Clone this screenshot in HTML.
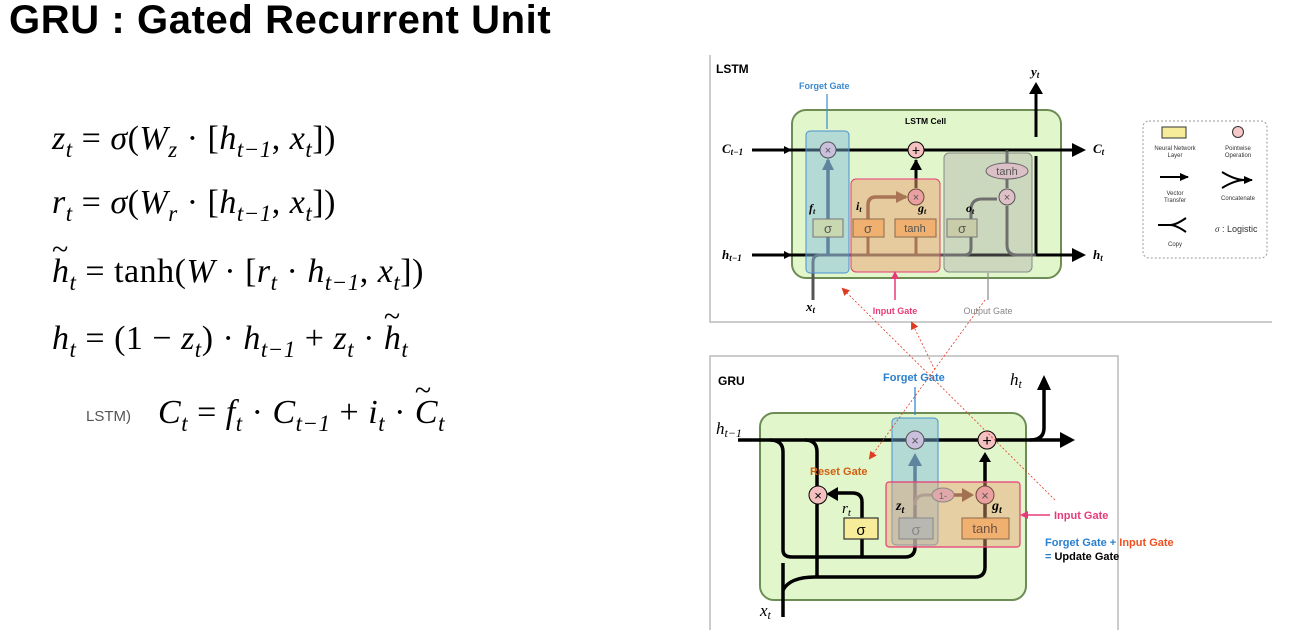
<!DOCTYPE html>
<html><head><meta charset="utf-8"><style>
body{margin:0;width:1311px;height:635px;background:#fff;overflow:hidden;position:relative;font-family:"Liberation Sans",sans-serif}
.t{position:absolute;left:9px;top:-2px;font-size:40px;font-weight:bold;letter-spacing:0.6px}
.eq{position:absolute;left:52px;font-family:"Liberation Serif",serif;font-size:34px;white-space:nowrap;line-height:1;letter-spacing:0.5px}
.eq i{font-style:italic}
.eq sub{font-size:23px;font-style:italic;vertical-align:-8px;line-height:0}
.til{position:relative;display:inline-block}
.til:before{content:"~";position:absolute;left:0;top:-20px;font-size:30px;font-style:normal}
</style></head><body>
<div class="t">GRU : Gated Recurrent Unit</div>
<div class="eq" style="top:122px"><i>z</i><sub>t</sub> = <i>σ</i>(<i>W</i><sub>z</sub> · [<i>h</i><sub>t−1</sub>, <i>x</i><sub>t</sub>])</div>
<div class="eq" style="top:186px"><i>r</i><sub>t</sub> = <i>σ</i>(<i>W</i><sub>r</sub> · [<i>h</i><sub>t−1</sub>, <i>x</i><sub>t</sub>])</div>
<div class="eq" style="top:255px"><i class="til">h</i><sub>t</sub> = tanh(<i>W</i> · [<i>r</i><sub>t</sub> · <i>h</i><sub>t−1</sub>, <i>x</i><sub>t</sub>])</div>
<div class="eq" style="top:322px"><i>h</i><sub>t</sub> = (1 − <i>z</i><sub>t</sub>) · <i>h</i><sub>t−1</sub> + <i>z</i><sub>t</sub> · <i class="til">h</i><sub>t</sub></div>
<div style="position:absolute;left:86px;top:408px;font-size:15px;color:#555">LSTM)</div>
<div class="eq" style="top:396px;left:158px"><i>C</i><sub>t</sub> = <i>f</i><sub>t</sub> · <i>C</i><sub>t−1</sub> + <i>i</i><sub>t</sub> · <i class="til">C</i><sub>t</sub></div>

<svg width="1311" height="635" style="position:absolute;left:0;top:0" font-family="Liberation Sans, sans-serif">
<defs>
<marker id="a" markerWidth="9" markerHeight="8" refX="8" refY="4" orient="auto" markerUnits="userSpaceOnUse"><path d="M0,0L9,4L0,8z" fill="#000"/></marker>
<marker id="ag" markerWidth="12" markerHeight="12" refX="10" refY="6" orient="auto" markerUnits="userSpaceOnUse"><path d="M0,0L12,6L0,12z" fill="#4a5a68"/></marker>
<marker id="ab" markerWidth="12" markerHeight="12" refX="10" refY="6" orient="auto" markerUnits="userSpaceOnUse"><path d="M0,0L12,6L0,12z" fill="#6a4a3a"/></marker>
<marker id="ar" markerWidth="8" markerHeight="8" refX="6" refY="4" orient="auto" markerUnits="userSpaceOnUse"><path d="M0,0L8,4L0,8z" fill="#e03a20"/></marker>
</defs>
<path d="M710,55V322H1272" fill="none" stroke="#bbb" stroke-width="1.5"/>
<text x="716" y="73" font-size="12" font-weight="bold">LSTM</text>
<rect x="792" y="110" width="269" height="168" rx="14" fill="#e2f6cc" stroke="#6e8d55" stroke-width="2"/>
<text x="905" y="124" font-size="8.5" font-weight="bold">LSTM Cell</text>
<text x="799" y="89" font-size="9" font-weight="bold" fill="#3a8ad0">Forget Gate</text>
<line x1="827" y1="94" x2="827" y2="129" stroke="#3a8ad0" stroke-width="1.2"/>
<line x1="752" y1="150" x2="1075" y2="150" stroke="#000" stroke-width="3"/>
<path d="M1072,143L1086,150L1072,157z"/>
<line x1="752" y1="255" x2="1075" y2="255" stroke="#000" stroke-width="3"/>
<path d="M1072,248L1086,255L1072,262z"/>
<line x1="1036" y1="137" x2="1036" y2="92" stroke="#000" stroke-width="3"/>
<path d="M1029,94L1036,82L1043,94z"/>
<line x1="1036" y1="156" x2="1036" y2="256" stroke="#000" stroke-width="3"/>
<path d="M813,300V262Q813,255 820,255H965Q971,255 971,248V210Q971,199 982,199H997" fill="none" stroke="#555" stroke-width="3"/>
<line x1="828" y1="255" x2="828" y2="160" stroke="#4a5a68" stroke-width="3.5" marker-end="url(#ag)"/>
<line x1="868" y1="255" x2="868" y2="237" stroke="#6a4a3a" stroke-width="3"/>
<line x1="916" y1="255" x2="916" y2="237" stroke="#6a4a3a" stroke-width="3"/>
<path d="M868,219V205Q868,197 876,197H906" fill="none" stroke="#6a4a3a" stroke-width="3.5" marker-end="url(#ab)"/>
<line x1="916" y1="188" x2="916" y2="160" stroke="#000" stroke-width="3"/>
<path d="M910,170L916,159L922,170z"/>
<path d="M1007,150V188M1007,206V245Q1007,255 1017,255H1036" fill="none" stroke="#555" stroke-width="3"/>
<rect x="806" y="131" width="43" height="142" rx="4" fill="#7ab8e0" fill-opacity="0.45" stroke="#4a90d0" stroke-width="1"/>
<rect x="851" y="179" width="89" height="93" rx="5" fill="#e8a070" fill-opacity="0.5" stroke="#e83a78" stroke-width="1"/>
<rect x="944" y="153" width="88" height="119" rx="5" fill="#a0a0a0" fill-opacity="0.35" stroke="#888" stroke-width="1"/>
<circle cx="828" cy="150" r="8" fill="#c8c0dc" stroke="#555"/><text x="828" y="154" font-size="11" text-anchor="middle" fill="#555">×</text>
<circle cx="916" cy="150" r="8" fill="#f4c0c0" stroke="#000"/><text x="916" y="155" font-size="14" text-anchor="middle">+</text>
<circle cx="916" cy="197" r="8" fill="#eaa0a0" stroke="#6a4a3a"/><text x="916" y="201" font-size="11" text-anchor="middle" fill="#555">×</text>
<circle cx="1007" cy="197" r="8" fill="#e0c0c8" stroke="#555"/><text x="1007" y="201" font-size="11" text-anchor="middle" fill="#555">×</text>
<ellipse cx="1007" cy="171" rx="21" ry="8" fill="#dcc0c8" stroke="#666"/><text x="1007" y="175" font-size="11" text-anchor="middle" fill="#555">tanh</text>
<rect x="813" y="219" width="30" height="18" fill="#c8d8b0" stroke="#777"/><text x="828" y="233" font-size="13" text-anchor="middle" fill="#555">σ</text>
<rect x="853" y="219" width="31" height="18" fill="#f0b070" stroke="#8a6a4a"/><text x="868" y="233" font-size="13" text-anchor="middle" fill="#555">σ</text>
<rect x="895" y="219" width="41" height="18" fill="#f0b070" stroke="#8a6a4a"/><text x="915" y="232" font-size="11" text-anchor="middle" fill="#555">tanh</text>
<rect x="947" y="219" width="30" height="18" fill="#c8cca8" stroke="#777"/><text x="962" y="233" font-size="13" text-anchor="middle" fill="#555">σ</text>
<g font-family="Liberation Serif, serif" font-style="italic" font-weight="bold">
<text x="809" y="212" font-size="12">f<tspan font-size="8" dy="2">t</tspan></text>
<text x="856" y="210" font-size="12">i<tspan font-size="8" dy="2">t</tspan></text>
<text x="918" y="212" font-size="12">g<tspan font-size="8" dy="2">t</tspan></text>
<text x="966" y="212" font-size="12">o<tspan font-size="8" dy="2">t</tspan></text>
<text x="722" y="153" font-size="13">C<tspan font-size="9" dy="2">t−1</tspan></text>
<text x="1093" y="153" font-size="13">C<tspan font-size="9" dy="2">t</tspan></text>
<text x="722" y="259" font-size="13">h<tspan font-size="9" dy="2">t−1</tspan></text>
<text x="1093" y="259" font-size="13">h<tspan font-size="9" dy="2">t</tspan></text>
<text x="1031" y="76" font-size="13">y<tspan font-size="9" dy="2">t</tspan></text>
<text x="806" y="311" font-size="13">x<tspan font-size="9" dy="2">t</tspan></text>
</g>
<path d="M784,146L792,150L784,154z"/>
<path d="M784,251L792,255L784,259z"/>
<line x1="895" y1="300" x2="895" y2="273" stroke="#e83a78" stroke-width="1.5"/>
<path d="M891,279L895,271L899,279z" fill="#e83a78"/>
<text x="895" y="314" font-size="9" font-weight="bold" fill="#e83a78" text-anchor="middle">Input Gate</text>
<line x1="988" y1="300" x2="988" y2="273" stroke="#888" stroke-width="1.2"/>
<text x="988" y="314" font-size="9" fill="#888" text-anchor="middle">Output Gate</text>
<rect x="1143" y="121" width="124" height="137" rx="6" fill="#fff" stroke="#999" stroke-dasharray="2,2"/>
<rect x="1162" y="127" width="24" height="11" fill="#f6ec9a" stroke="#333"/>
<circle cx="1238" cy="132" r="5.5" fill="#f6c8c8" stroke="#333"/>
<g font-size="6" fill="#333" text-anchor="middle">
<text x="1175" y="150">Neural Network</text><text x="1175" y="157">Layer</text>
<text x="1238" y="150">Pointwise</text><text x="1238" y="157">Operation</text>
<text x="1175" y="195">Vector</text><text x="1175" y="202">Transfer</text>
<text x="1238" y="200">Concatenate</text>
<text x="1175" y="246">Copy</text>
</g>
<line x1="1160" y1="177" x2="1188" y2="177" stroke="#000" stroke-width="2" marker-end="url(#a)"/>
<path d="M1222,172Q1235,180 1245,180M1222,188Q1235,180 1245,180" fill="none" stroke="#000" stroke-width="2"/><line x1="1240" y1="180" x2="1252" y2="180" stroke="#000" stroke-width="2" marker-end="url(#a)"/>
<path d="M1158,225H1170Q1176,225 1186,218M1170,225Q1176,225 1186,232" fill="none" stroke="#000" stroke-width="2"/>
<text x="1215" y="232" font-size="9" fill="#333"><tspan font-style="italic" font-family="Liberation Serif,serif">σ</tspan> : Logistic</text>

<path d="M710,630V356H1118V630" fill="none" stroke="#bbb" stroke-width="1.5"/>
<text x="718" y="385" font-size="12" font-weight="bold">GRU</text>
<rect x="760" y="413" width="266" height="187" rx="14" fill="#e2f6cc" stroke="#6e8d55" stroke-width="2"/>
<text x="883" y="381" font-size="11" font-weight="bold" fill="#2a80d0">Forget Gate</text>
<line x1="915" y1="387" x2="915" y2="415" stroke="#2a80d0" stroke-width="1.2"/>
<g fill="none" stroke="#000" stroke-width="3.5">
<line x1="738" y1="440" x2="1062" y2="440"/>
<path d="M1030,440Q1044,440 1044,428V388"/>
<path d="M770,440Q783,440 783,452V550Q783,557 792,557H905Q915,557 915,547V539"/>
<path d="M805,440Q817,440 817,452V486M817,504V577"/>
<path d="M862,557V539M862,518V502Q862,493 852,493H832"/>
<path d="M783,617V563"/>
<path d="M783,590Q790,577 815,577H975Q985,577 985,567V539"/>
<line x1="985" y1="518" x2="985" y2="504"/>
<line x1="985" y1="486" x2="985" y2="460"/>
</g>
<path d="M1060,432L1075,440L1060,448z"/>
<path d="M1037,390L1044,375L1051,390z"/>
<path d="M979,462L985,452L991,462z"/>
<path d="M838,487L826,494L838,501z"/>
<line x1="915" y1="547" x2="915" y2="462" stroke="#4a5a68" stroke-width="3.5"/>
<path d="M908,466L915,453L922,466z" fill="#4a5a68"/>
<path d="M915,505Q915,495 925,495H932" fill="none" stroke="#888" stroke-width="3"/>
<line x1="954" y1="495" x2="966" y2="495" stroke="#6a4a3a" stroke-width="3.5"/>
<path d="M962,488L974,495L962,502z" fill="#6a4a3a"/>
<rect x="892" y="418" width="46" height="127" rx="4" fill="#7ab8e0" fill-opacity="0.45" stroke="#4a90d0" stroke-width="1"/>
<rect x="886" y="482" width="134" height="65" rx="3" fill="#e8a070" fill-opacity="0.45" stroke="#e83a78" stroke-width="1.2"/>
<circle cx="915" cy="440" r="9" fill="#c8c0dc" stroke="#555"/><text x="915" y="445" font-size="13" text-anchor="middle" fill="#555">×</text>
<circle cx="987" cy="440" r="9" fill="#f4c0c0" stroke="#000"/><text x="987" y="446" font-size="16" text-anchor="middle">+</text>
<circle cx="818" cy="495" r="9" fill="#f4c0c0" stroke="#000"/><text x="818" y="500" font-size="13" text-anchor="middle">×</text>
<circle cx="985" cy="495" r="9" fill="#eaa0a0" stroke="#6a4a3a"/><text x="985" y="500" font-size="13" text-anchor="middle" fill="#555">×</text>
<ellipse cx="943" cy="495" rx="11" ry="7" fill="#e0a8a8" stroke="#888"/><text x="943" y="499" font-size="9" text-anchor="middle" fill="#666">1-</text>
<rect x="844" y="518" width="34" height="21" fill="#f6ec9a" stroke="#333" stroke-width="1.2"/><text x="861" y="535" font-size="15" text-anchor="middle">σ</text>
<rect x="899" y="518" width="34" height="21" fill="#b8b8b0" stroke="#888"/><text x="916" y="535" font-size="15" text-anchor="middle" fill="#888">σ</text>
<rect x="962" y="518" width="47" height="21" fill="#f0b070" stroke="#8a6a4a"/><text x="985" y="533" font-size="13" text-anchor="middle" fill="#6a5040">tanh</text>
<g font-family="Liberation Serif, serif" font-style="italic">
<text x="716" y="434" font-size="17">h<tspan font-size="12" dy="3">t−1</tspan></text>
<text x="1010" y="385" font-size="17">h<tspan font-size="12" dy="3">t</tspan></text>
<text x="760" y="616" font-size="17">x<tspan font-size="12" dy="3">t</tspan></text>
<text x="842" y="513" font-size="15">r<tspan font-size="11" dy="3">t</tspan></text>
<text x="896" y="510" font-size="14" font-weight="bold">z<tspan font-size="10" dy="3">t</tspan></text>
<text x="992" y="510" font-size="14" font-weight="bold">g<tspan font-size="10" dy="3">t</tspan></text>
</g>
<text x="810" y="475" font-size="11" font-weight="bold" fill="#d06010">Reset Gate</text>
<line x1="1050" y1="515" x2="1022" y2="515" stroke="#e83a78" stroke-width="1.5"/>
<path d="M1028,511L1020,515L1028,519z" fill="#e83a78"/>
<text x="1054" y="519" font-size="11" font-weight="bold" fill="#e83a78">Input Gate</text>
<text x="1045" y="546" font-size="11" font-weight="bold"><tspan fill="#2a80d0">Forget Gate</tspan><tspan fill="#2a80d0"> + </tspan><tspan fill="#f05020">Input Gate</tspan></text>
<text x="1045" y="560" font-size="11" font-weight="bold"><tspan fill="#2a80d0">= </tspan>Update Gate</text>
<g stroke="#e03a20" stroke-width="0.8" stroke-dasharray="2,2" fill="none">
<line x1="1055" y1="500" x2="843" y2="289" marker-end="url(#ar)"/>
<line x1="985" y1="300" x2="870" y2="458" marker-end="url(#ar)"/>
<line x1="935" y1="370" x2="912" y2="323" marker-end="url(#ar)"/>
</g>
</svg>
</body></html>
